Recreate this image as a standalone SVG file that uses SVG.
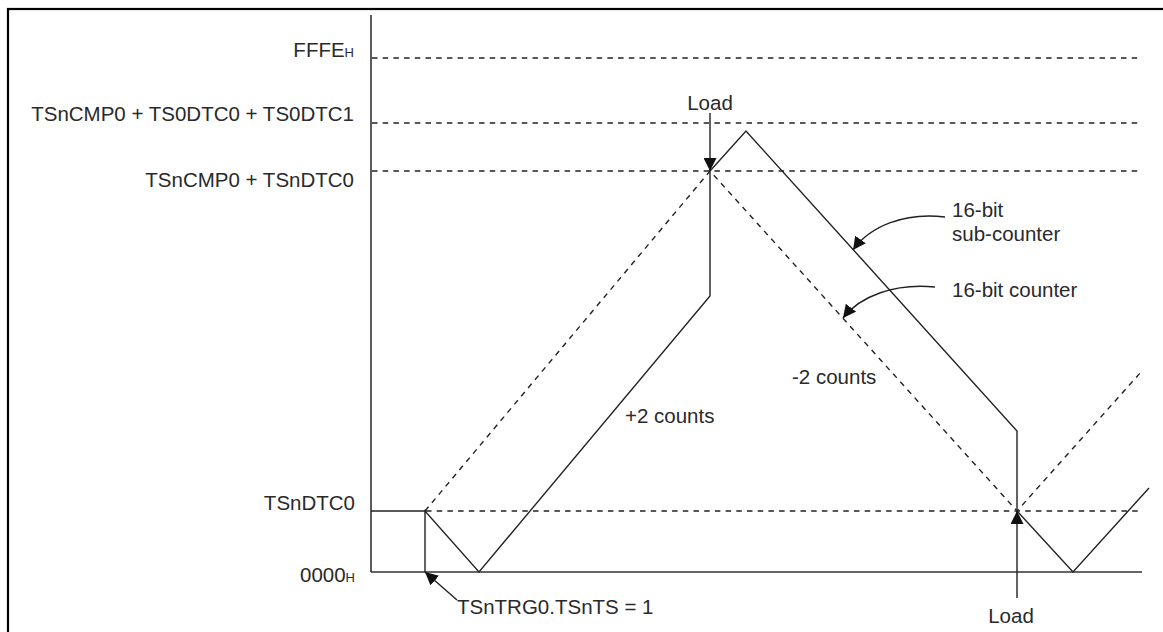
<svg xmlns="http://www.w3.org/2000/svg" width="1163" height="632" viewBox="0 0 1163 632">
<defs>
<style>
text{font-family:"Liberation Sans",Arial,sans-serif;font-size:20.5px;fill:#2a2a2a}
.sub{font-size:13px}
.s{stroke:#222;stroke-width:1.4;fill:none}
.d{stroke:#222;stroke-width:1.4;fill:none;stroke-dasharray:5.5 5.2}
.ax{stroke:#333;stroke-width:1.6;fill:none}
</style>
<marker id="ah" viewBox="0 0 13 13" refX="13" refY="6.5" markerWidth="13" markerHeight="13" markerUnits="userSpaceOnUse" orient="auto">
<path d="M0,0 L13,6.5 L0,13 Z" fill="#111"/>
</marker>
</defs>
<rect x="8" y="9" width="1170" height="640" fill="#fff" stroke="#000" stroke-width="2.2"/>
<g id="axes">
<line class="ax" x1="371" y1="15" x2="371" y2="572"/>
<line class="ax" x1="371" y1="572" x2="1142" y2="572"/>
</g>
<g id="levels">
<line class="d" x1="372" y1="58" x2="1142" y2="58"/>
<line class="d" x1="372" y1="123" x2="1142" y2="123"/>
<line class="d" x1="372" y1="171" x2="1142" y2="171"/>
<line class="d" x1="426" y1="511" x2="1142" y2="511"/>
<line class="s" x1="371" y1="511" x2="425" y2="511"/>
</g>
<g id="labels-y">
<text x="354" y="57" text-anchor="end">FFFE<tspan class="sub">H</tspan></text>
<text x="354" y="121" text-anchor="end">TSnCMP0 + TS0DTC0 + TS0DTC1</text>
<text x="354" y="187" text-anchor="end">TSnCMP0 + TSnDTC0</text>
<text x="355" y="510" text-anchor="end">TSnDTC0</text>
<text x="355" y="582" text-anchor="end">0000<tspan class="sub">H</tspan></text>
</g>
<g id="counter">
<polyline class="d" points="425,511 710,171 1017,511 1141,372"/>
</g>
<g id="sub-counter">
<polyline class="s" points="425,572 425,511 479,572 710,296 710,171 746,131 1017,431 1017,511 1073,572 1149,488"/>
</g>
<g id="connectors">
<line class="s" x1="710" y1="113" x2="710" y2="171" marker-end="url(#ah)"/>
<line class="s" x1="1017" y1="598" x2="1017" y2="511" marker-end="url(#ah)"/>
<line class="s" x1="457" y1="600" x2="425" y2="572" marker-end="url(#ah)"/>
<path class="s" d="M945,217 C905,212 870,226 853,250" marker-end="url(#ah)"/>
<path class="s" d="M935,287 C895,283 860,296 843,318" marker-end="url(#ah)"/>
</g>
<g id="texts">
<text x="710" y="110" text-anchor="middle">Load</text>
<text x="1011" y="623" text-anchor="middle">Load</text>
<text x="457" y="614">TSnTRG0.TSnTS = 1</text>
<text x="952" y="217">16-bit</text>
<text x="952" y="241">sub-counter</text>
<text x="952" y="297">16-bit counter</text>
<text x="625" y="423">+2 counts</text>
<text x="792" y="384">-2 counts</text>
</g>
</svg>
